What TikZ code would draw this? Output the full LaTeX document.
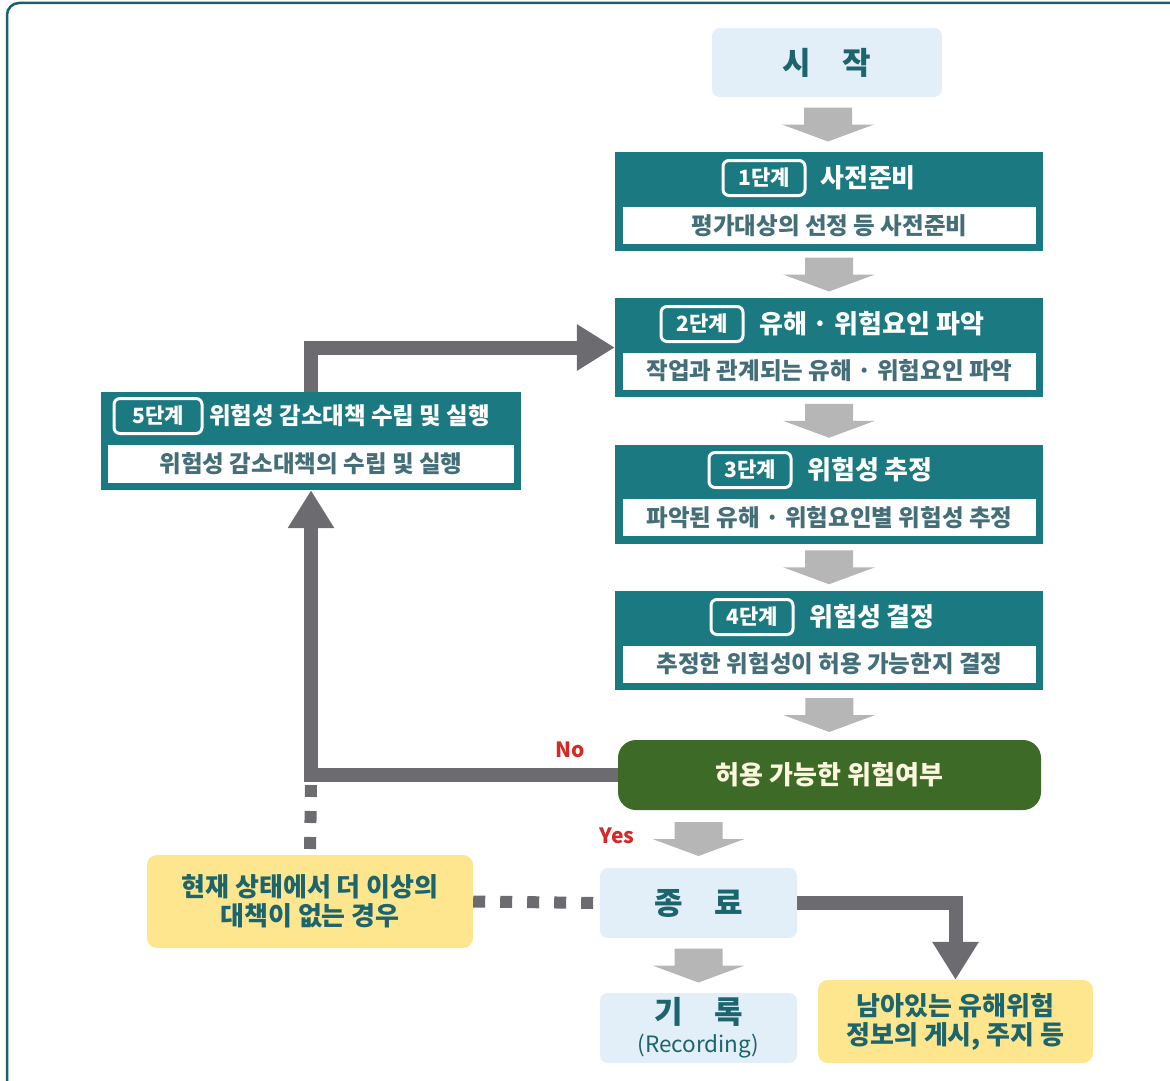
\documentclass[tikz,border=0pt]{standalone}
\usepackage{fontspec}
\setmainfont{Noto Sans CJK KR}
\usetikzlibrary{calc,arrows.meta}
\definecolor{teal1}{RGB}{27,121,129}
\definecolor{bodyc}{RGB}{68,110,120}
\definecolor{tealtxt}{RGB}{28,100,110}
\definecolor{lblue}{RGB}{226,238,248}
\definecolor{lgray}{RGB}{182,182,182}
\definecolor{dgray}{RGB}{108,108,112}
\definecolor{dgreen}{RGB}{62,106,40}
\definecolor{yel}{RGB}{253,230,142}
\definecolor{redc}{RGB}{215,40,40}
\definecolor{framec}{RGB}{25,95,110}
\definecolor{cream}{RGB}{252,246,222}
\newcommand\fsz[2]{\fontsize{#1}{#2}\selectfont}
\newcommand\garrow[1]{\fill[lgray] ($(#1)+(-24,-17)$) -- ($(#1)+(24,-17)$) -- ($(#1)+(24,0)$) -- ($(#1)+(46,0)$) -- ($(#1)+(0,17)$) -- ($(#1)+(-46,0)$) -- ($(#1)+(-24,0)$) -- cycle;}
\tikzset{
  stepbox/.style={fill=teal1, minimum width=428pt, minimum height=99pt, inner sep=0pt},
  inbox/.style={fill=white, minimum width=413pt, minimum height=37pt, inner sep=0pt, text=bodyc, font=\bfseries\fsz{23.5}{27}},
  labbox/.style={draw=white, line width=3pt, fill=teal1, rounded corners=6pt, minimum width=82pt, minimum height=35pt, text=white, font=\bfseries\fsz{21}{24}, inner sep=0pt},
  titl/.style={anchor=west, text=white, font=\bfseries\fsz{26}{30}, inner sep=0pt},
  lbox/.style={fill=lblue, rounded corners=8pt, text=tealtxt, font=\bfseries\fsz{31}{35}, inner sep=0pt, align=center},
  ybox/.style={fill=yel, rounded corners=10pt, text=tealtxt, font=\bfseries\fsz{26}{29}, inner sep=0pt, align=center},
  dline/.style={draw=dgray, line width=14pt, line join=miter},
  dotline/.style={draw=dgray, line width=12pt, dash pattern=on 12pt off 14pt},
  tipd/.style={-{Triangle[length=38pt,width=44pt]}},
  lab/.style={text=redc, font=\bfseries\fsz{21}{24}, inner sep=0pt}
}
\begin{document}
\begin{tikzpicture}[x=1pt,y=-1pt]
\useasboundingbox (0,0) rectangle (1170,1081);
\clip (0,0) rectangle (1170,1081);
\draw[framec, line width=2.5pt, rounded corners=12pt] (7,3) rectangle (1200,1110);

% start
\node[lbox, minimum width=230pt, minimum height=69pt] (st) at (827,62.5) {시\quad 작};

% step 1
\node[stepbox] (s1) at (829,201.5) {};
\node[inbox] (b1) at (829.5,225.5) {평가대상의 선정 등 사전준비};
\node[labbox] (l1) at (764,178) {1단계};
\node[titl] (t1) at (820,178) {사전준비};

% step 2
\node[stepbox] (s2) at (829,347.5) {};
\node[inbox] (b2) at (829.5,371) {작업과 관계되는 유해 · 위험요인 파악};
\node[labbox] (l2) at (702,324) {2단계};
\node[titl] (t2) at (759,324) {유해 · 위험요인 파악};

% step 3
\node[stepbox] (s3) at (829,494) {};
\node[inbox] (b3) at (829.5,517.5) {파악된 유해 · 위험요인별 위험성 추정};
\node[labbox] (l3) at (750,470) {3단계};
\node[titl] (t3) at (807,470) {위험성 추정};

% step 4
\node[stepbox] (s4) at (829,640.5) {};
\node[inbox] (b4) at (829.5,664) {추정한 위험성이 허용 가능한지 결정};
\node[labbox] (l4) at (752,617) {4단계};
\node[titl] (t4) at (809,617) {위험성 결정};

% step 5
\node[stepbox, minimum width=420pt, minimum height=98pt] (s5) at (311,441) {};
\node[inbox, minimum width=406pt, minimum height=38pt] (b5) at (311,464) {위험성 감소대책의 수립 및 실행};
\node[labbox, minimum width=88pt] (l5) at (158,416) {5단계};
\node[titl, font=\bfseries\fsz{23.5}{27}] (t5) at (209,416) {위험성 감소대책 수립 및 실행};

% decision
\node[fill=dgreen, rounded corners=18pt, minimum width=423pt, minimum height=70pt, text=cream, font=\bfseries\fsz{26}{30}, inner sep=0pt] (dec) at (829.5,775) {허용 가능한 위험여부};

% bottom boxes
\node[ybox, minimum width=326pt, minimum height=93pt] (y1) at (310,901.5) {현재 상태에서 더 이상의\\대책이 없는 경우};
\node[lbox, minimum width=197pt, minimum height=70pt] (en) at (698.5,903) {종\quad 료};
\node[lbox, minimum width=197pt, minimum height=70pt] (rec) at (698.5,1028) {기\quad 록\\[-6pt]{\mdseries\fsz{22.5}{26}(Recording)}};
\node[ybox, minimum width=275pt, minimum height=83pt] (y2) at (955.5,1021.5) {남아있는 유해위험\\정보의 게시, 주지 등};

% light gray block arrows
\coordinate (a0) at ($(st.south)!0.5!(s1.north)$);
\coordinate (a1) at ($(s1.south)!0.5!(s2.north)$);
\coordinate (a2) at ($(s2.south)!0.5!(s3.north)$);
\coordinate (a3) at ($(s3.south)!0.5!(s4.north)$);
\coordinate (a4) at ($(s4.south)!0.5!(dec.north)$);
\coordinate (a5) at ($(dec.south -| en.north)!0.5!(en.north)$);
\coordinate (a6) at ($(en.south)!0.5!(rec.north)$);
\garrow{a0}
\garrow{a1}
\garrow{a2}
\garrow{a3}
\garrow{a4}
\garrow{a5}
\garrow{a6}

% dark connectors
\draw[dline, tipd] (dec.west) -| (s5.south);
\draw[dline, tipd] (s5.north) |- (s2.west);
\draw[dline, tipd] (en.east) -| (y2.north);

% dotted connectors
\coordinate (c1) at ($(dec.west -| s5.south)+(0,10)$);
\draw[dotline] (c1) -- (y1.north);
\draw[dotline, dash pattern=on 12pt off 15pt] (y1.east) -- (en.west);

% labels
\node[lab] (no) at (570,750) {No};
\node[lab] (yes) at (617,836) {Yes};
\end{tikzpicture}
\end{document}
